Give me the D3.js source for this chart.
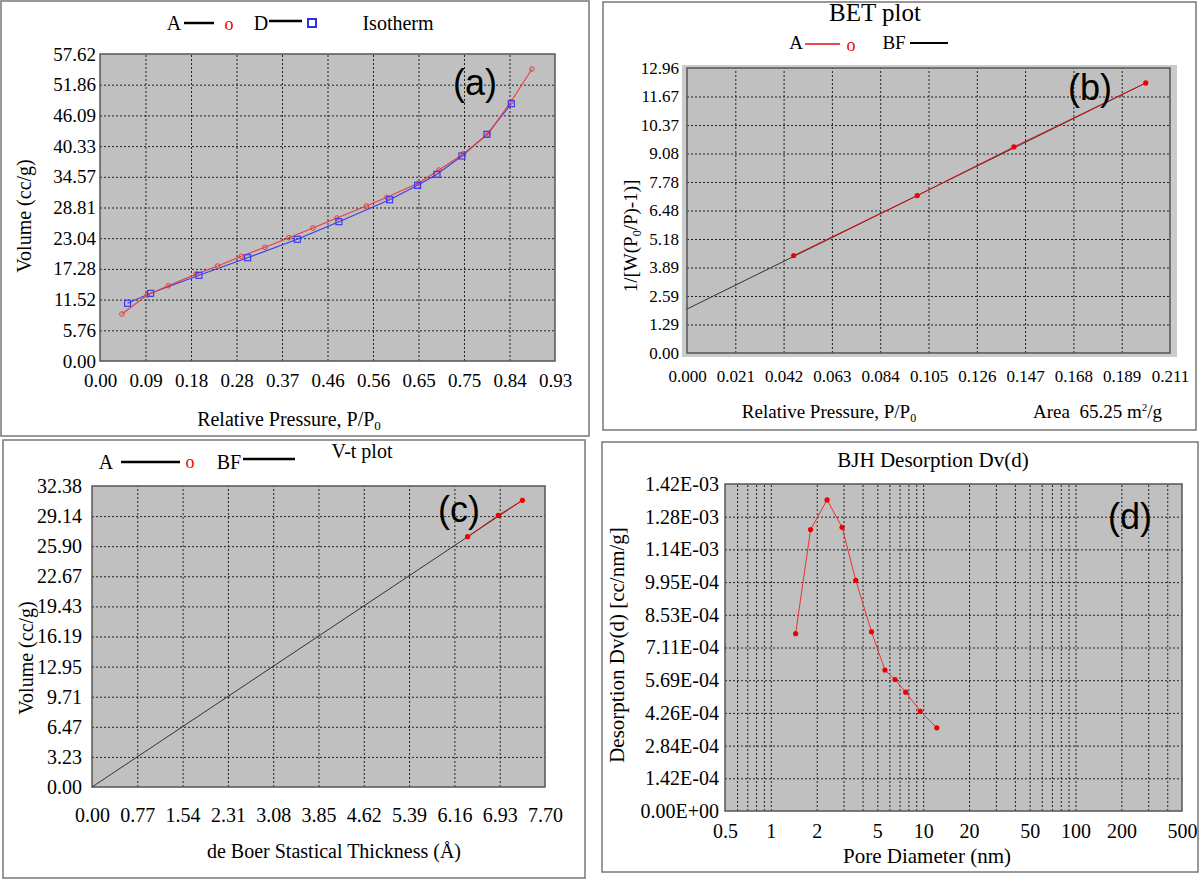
<!DOCTYPE html>
<html lang="en">
<head>
<meta charset="utf-8">
<title>BET surface analysis</title>
<script src="https://cdn.jsdelivr.net/npm/d3@7"></script>
<style>
body{margin:0;background:#fff}
svg text{font-family:"Liberation Serif","Times New Roman",serif}
</style>
</head>
<body>
<div id="chart"></div>
<script>

// (a) isotherm, adsorption + desorption
var isoAdsX = [0.0448,0.0967,0.1396,0.1968,0.2404,0.2888,0.3371,0.3862,0.4352,0.4843,0.5443,0.5865,0.651,0.6928,0.743,0.793,0.840,0.8829]
var isoAdsY = [8.82,12.39,14.13,16.33,17.83,19.65,21.34,23.15,24.96,26.84,29.09,30.72,33.4,35.85,38.9,42.6,48.67,54.8]
var isoDesX = [0.0564,0.1034,0.2022,0.3017,0.4033,0.4884,0.592,0.6492,0.6887,0.7398,0.7909,0.8407]
var isoDesY = [10.83,12.7,16.08,19.39,22.84,26.15,30.27,32.97,35.04,38.48,42.55,48.3]
var isoXTicks = ["0.00","0.09","0.18","0.28","0.37","0.46","0.56","0.65","0.75","0.84","0.93"]
var isoYTicks = ["0.00","5.76","11.52","17.28","23.04","28.81","34.57","40.33","46.09","51.86","57.62"]

// (b) BET plot
var betX = [0.0466,0.1006,0.1428,0.2004]
var betY = [4.43,7.16,9.37,12.28]
var betFitX = [0,0.2004]
var betFitY = [2.0,12.28]
var betXTicks = ["0.000","0.021","0.042","0.063","0.084","0.105","0.126","0.147","0.168","0.189","0.211"]
var betYTicks = ["0.00","1.29","2.59","3.89","5.18","6.48","7.78","9.08","10.37","11.67","12.96"]

// (c) V-t plot
var vtX = [6.385,6.906,7.316]
var vtY = [26.93,29.22,30.84]
var vtFitX = [0,7.316]
var vtFitY = [0,30.84]
var vtXTicks = ["0.00","0.77","1.54","2.31","3.08","3.85","4.62","5.39","6.16","6.93","7.70"]
var vtYTicks = ["0.00","3.23","6.47","9.71","12.95","16.19","19.43","22.67","25.90","29.14","32.38"]

// (d) BJH desorption
var bjhX = [1.454,1.823,2.339,2.934,3.61,4.58,5.61,6.53,7.68,9.57,12.28]
var bjhY = [7.70e-4,1.222e-3,1.351e-3,1.232e-3,1.002e-3,7.78e-4,6.12e-4,5.71e-4,5.16e-4,4.33e-4,3.61e-4]
var bjhXTicks = [0.5,1,2,5,10,20,50,100,200,500]
var bjhYTicks = ["0.00E+00","1.42E-04","2.84E-04","4.26E-04","5.69E-04","7.11E-04","8.53E-04","9.95E-04","1.14E-03","1.28E-03","1.42E-03"]

var serif = '"Liberation Serif","Times New Roman",serif'
var sans = '"Liberation Sans",Arial,sans-serif'

var svg = d3.select("#chart").append("svg")
	.attr("width",1200).attr("height",880)

function zip(xs,ys){
	return xs.map(function(d,i){ return [d,ys[i]] })
}

// tick positions come from the last label (max of the axis)
function tickVals(labels){
	var max = parseFloat(labels[labels.length-1])
	return d3.range(labels.length).map(function(i){ return max*i/(labels.length-1) })
}

function box(x0,y0,x1,y1){
	svg.append("rect")
	.attr("x",x0).attr("y",y0).attr("width",x1-x0).attr("height",y1-y0)
	.attr("fill","none").attr("stroke","#777").attr("stroke-width",1.5)
}

function plotArea(x,y,xGrid,yGrid){
	var r = x.range(), t = y.range()
	svg.append("rect")
	.attr("x",r[0]).attr("y",t[1]).attr("width",r[1]-r[0]).attr("height",t[0]-t[1])
	.attr("fill","#c0c0c0")

	var gx = svg.append("g").attr("transform","translate(0,"+t[0]+")")
	.call(d3.axisBottom(x).tickValues(xGrid).tickSize(-(t[0]-t[1])).tickFormat(""))
	var gy = svg.append("g").attr("transform","translate("+r[0]+",0)")
	.call(d3.axisLeft(y).tickValues(yGrid).tickSize(-(r[1]-r[0])).tickFormat(""))
	;[gx,gy].forEach(function(g){
		g.select(".domain").remove()
		g.selectAll("line").attr("stroke","#222").attr("stroke-dasharray","2,2").attr("stroke-width",1)
	})

	svg.append("rect")
	.attr("x",r[0]).attr("y",t[1]).attr("width",r[1]-r[0]).attr("height",t[0]-t[1])
	.attr("fill","none").attr("stroke","#555").attr("stroke-width",1.5)
}

function labels(x,y,xVals,xLab,yVals,yLab,fs,padX,padY){
	var r = x.range(), t = y.range()
	var gx = svg.append("g").attr("transform","translate(0,"+t[0]+")")
	.call(d3.axisBottom(x).tickValues(xVals).tickSize(0).tickPadding(padX)
		.tickFormat(function(d,i){ return xLab[i] }))
	var gy = svg.append("g").attr("transform","translate("+r[0]+",0)")
	.call(d3.axisLeft(y).tickValues(yVals).tickSize(0).tickPadding(padY)
		.tickFormat(function(d,i){ return yLab[i] }))
	;[gx,gy].forEach(function(g){
		g.select(".domain").remove()
		g.selectAll("text").style("font-size",fs+"px").style("font-family",serif).style("fill","#000")
	})
}

function txt(x,y,s,fs,anchor,rot){
	var t = svg.append("text").style("font-size",fs+"px").style("font-family",serif)
	.attr("text-anchor",anchor||"middle")
	if(rot){
		t.attr("transform","translate("+x+","+y+") rotate(-90)")
	}else{
		t.attr("x",x).attr("y",y)
	}
	t.text(s)
	return t
}

function tag(x,y,s){
	return txt(x,y,s,36).style("font-family",sans)
}

function seg(x0,y0,x1,y1,color,w){
	svg.append("line").attr("x1",x0).attr("y1",y0).attr("x2",x1).attr("y2",y1)
	.attr("stroke",color).attr("stroke-width",w)
}

function path(x,y,pts,color,w){
	var line = d3.line().x(function(d){ return x(d[0]) }).y(function(d){ return y(d[1]) })
	svg.append("path").datum(pts).attr("d",line)
	.attr("fill","none").attr("stroke",color).attr("stroke-width",w)
}

function dots(x,y,pts,color){
	svg.append("g").selectAll("circle").data(pts).enter().append("circle")
	.attr("cx",function(d){ return x(d[0]) })
	.attr("cy",function(d){ return y(d[1]) })
	.attr("r",2.6).attr("fill",color)
}

// ---------- (a) ----------
box(1,1,589,436)
var xa = d3.scaleLinear().domain([0,parseFloat(isoXTicks[10])]).range([100,555])
var ya = d3.scaleLinear().domain([0,parseFloat(isoYTicks[10])]).range([361,54])
var xaV = tickVals(isoXTicks), yaV = tickVals(isoYTicks)
plotArea(xa,ya,xaV.slice(1,10),yaV.slice(1,10))
labels(xa,ya,xaV,isoXTicks,yaV,isoYTicks,19,13,4)

path(xa,ya,zip(isoDesX,isoDesY),"#3b3bee",1.1)
path(xa,ya,zip(isoAdsX,isoAdsY),"#ee3b3b",1.1)
svg.append("g").selectAll("circle").data(zip(isoAdsX,isoAdsY)).enter().append("circle")
	.attr("cx",function(d){ return xa(d[0]) }).attr("cy",function(d){ return ya(d[1]) })
	.attr("r",2.3).attr("fill","none").attr("stroke","#ee3b3b").attr("stroke-width",1)
svg.append("g").selectAll("rect").data(zip(isoDesX,isoDesY)).enter().append("rect")
	.attr("x",function(d){ return xa(d[0])-3 }).attr("y",function(d){ return ya(d[1])-3 })
	.attr("width",6).attr("height",6).attr("fill","none").attr("stroke","#3b3bee").attr("stroke-width",1.2)

txt(174,30,"A",20)
seg(184,23,214,23,"#000",2.5)
txt(229,30,"o",18).style("fill","#e00")
txt(261,30,"D",20)
seg(269,21,302,21,"#000",2.5)
svg.append("rect").attr("x",308).attr("y",19).attr("width",8).attr("height",8)
	.attr("fill","none").attr("stroke","#3333dd").attr("stroke-width",2)
txt(398,30,"Isotherm",20)
tag(475,95,"(a)")
txt(31,216,"Volume (cc/g)",20,"middle",true)
var ta = txt(289,426,"Relative Pressure, P/P",20)
ta.append("tspan").style("font-size","13px").attr("dy",4).text("0")

// ---------- (b) ----------
box(603,2,1196,430)
svg.append("rect").attr("x",682).attr("y",65).attr("width",495).attr("height",292).attr("fill","#cbcbcb")
var xb = d3.scaleLinear().domain([0,parseFloat(betXTicks[10])]).range([687,1170])
var yb = d3.scaleLinear().domain([0,parseFloat(betYTicks[10])]).range([353,68])
var xbV = tickVals(betXTicks), ybV = tickVals(betYTicks)
plotArea(xb,yb,xbV.slice(1,10),ybV.slice(1,10))
labels(xb,yb,xbV,betXTicks,ybV,betYTicks,17,17,8)

path(xb,yb,zip(betFitX,betFitY),"#333",1)
path(xb,yb,zip(betX,betY),"#e01010",1)
dots(xb,yb,zip(betX,betY),"#ee0000")

txt(875,21,"BET plot",25)
txt(796,49,"A",19)
seg(805,44,840,44,"#e01010",1.5)
txt(851,51,"o",18).style("fill","#e00")
txt(894,49,"BF",19)
seg(910,43,948,43,"#000",2)
tag(1090,100,"(b)")
var tb = txt(637,236,"1/[W(P",19,"middle",true)
tb.append("tspan").style("font-size","12px").attr("dy",4).text("0")
tb.append("tspan").attr("dy",-4).text("/P)-1)]")
var tb2 = txt(829,418,"Relative Pressure, P/P",19)
tb2.append("tspan").style("font-size","12px").attr("dy",4).text("0")
var tb3 = txt(1033,418,"Area  65.25 m",19,"start").style("white-space","pre")
tb3.append("tspan").style("font-size","11px").attr("dy",-7).text("2")
tb3.append("tspan").attr("dy",7).text("/g")

// ---------- (c) ----------
box(3,440,585,878)
var xc = d3.scaleLinear().domain([0,parseFloat(vtXTicks[10])]).range([92,545])
var yc = d3.scaleLinear().domain([0,parseFloat(vtYTicks[10])]).range([787,486])
var xcV = tickVals(vtXTicks), ycV = tickVals(vtYTicks)
plotArea(xc,yc,xcV.slice(1,10),ycV.slice(1,10))
labels(xc,yc,xcV,vtXTicks,ycV,vtYTicks,20,21,10)

path(xc,yc,zip(vtFitX,vtFitY),"#333",1)
path(xc,yc,zip(vtX,vtY),"#e01010",1)
dots(xc,yc,zip(vtX,vtY),"#ee0000")

txt(362,458,"V-t plot",20)
txt(106,469,"A",20)
seg(121,462,180,462,"#000",2.5)
txt(190,468,"o",18).style("fill","#e00")
txt(229,469,"BF",20)
seg(243,459,295,459,"#000",2.5)
tag(459,522,"(c)")
txt(33,658,"Volume (cc/g)",20,"middle",true)
txt(334,858,"de Boer Stastical Thickness (Å)",20)

// ---------- (d) ----------
box(602,442,1198,872)
var xd = d3.scaleLog().domain([bjhXTicks[0],bjhXTicks[bjhXTicks.length-1]]).range([725,1182])
var yd = d3.scaleLinear().domain([0,parseFloat(bjhYTicks[10])]).range([811,484])
var ydV = tickVals(bjhYTicks)
var xdGrid = xd.ticks().filter(function(d){ return d>bjhXTicks[0] && d<bjhXTicks[bjhXTicks.length-1] })
plotArea(xd,yd,xdGrid,ydV.slice(1,10))
labels(xd,yd,bjhXTicks,bjhXTicks.map(String),ydV,bjhYTicks,20,13,6)

path(xd,yd,zip(bjhX,bjhY),"#f03030",1)
dots(xd,yd,zip(bjhX,bjhY),"#ee0000")

txt(933,467,"BJH Desorption Dv(d)",21)
tag(1130,529,"(d)")
txt(624,645,"Desorption Dv(d) [cc/nm/g]",21,"middle",true)
txt(927,863,"Pore Diameter (nm)",21)

</script>
</body>
</html>
